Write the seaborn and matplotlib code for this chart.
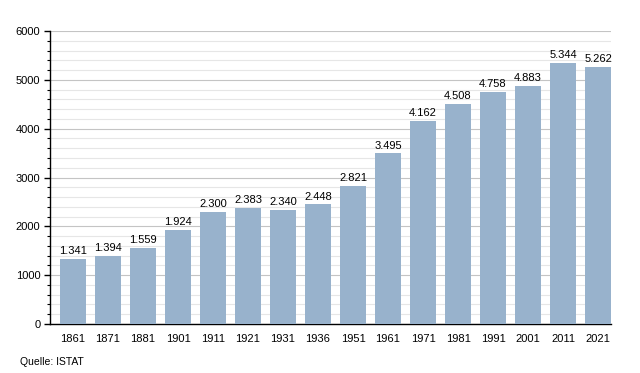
import matplotlib
matplotlib.use("Agg")
import matplotlib.pyplot as plt
from matplotlib.ticker import MultipleLocator
import seaborn as sns
import pandas as pd

years = ["1861", "1871", "1881", "1901", "1911", "1921", "1931", "1936",
         "1951", "1961", "1971", "1981", "1991", "2001", "2011", "2021"]
population = [1341, 1394, 1559, 1924, 2300, 2383, 2340, 2448,
              2821, 3495, 4162, 4508, 4758, 4883, 5344, 5262]

df = pd.DataFrame({"year": years, "pop": population})

sns.set_style("white", {"text.color": "black", "xtick.color": "black",
                        "ytick.color": "black"})
plt.rcParams["font.family"] = ["Liberation Sans", "DejaVu Sans"]

fig = plt.figure(figsize=(6.4, 3.73), dpi=100)
ax = fig.add_axes([50 / 640, 49 / 373, 561 / 640, 293 / 373])

sns.barplot(data=df, x="year", y="pop", color="#98b2cc", saturation=1,
            width=0.74, ax=ax, zorder=3, edgecolor="none", linewidth=0)

# grid: major every 1000, minor every 200
ax.set_ylim(0, 6000)
ax.yaxis.set_major_locator(MultipleLocator(1000))
ax.yaxis.set_minor_locator(MultipleLocator(200))
ax.set_axisbelow(True)
ax.grid(axis="y", which="major", color="#c4c4c4", lw=0.8, zorder=0)
ax.grid(axis="y", which="minor", color="#e6e6e6", lw=0.8, zorder=0)
ax.set_xlim(-0.657, 15.37)

for s in ["top", "right"]:
    ax.spines[s].set_visible(False)
ax.spines["left"].set_color("black")
ax.spines["bottom"].set_color("black")
ax.spines["left"].set_linewidth(1)
ax.spines["bottom"].set_linewidth(1)

ax.tick_params(axis="y", which="major", left=True, length=4, width=1,
               color="black", labelcolor="black", labelsize=8, pad=3)
ax.tick_params(axis="y", which="minor", left=True, length=2, width=0.8,
               color="black")
ax.tick_params(axis="x", bottom=False, labelcolor="black", labelsize=8, pad=4)
ax.set_xlabel("")
ax.set_ylabel("")

labels = [f"{v:,}".replace(",", ".") for v in population]
ax.bar_label(ax.containers[0], labels=labels, fontsize=8, padding=2,
             color="black")

fig.text(20 / 640, 1 - 362 / 373, "Quelle: ISTAT", fontsize=7.5, va="center",
         color="black")

fig.savefig("out.png", dpi=100)
